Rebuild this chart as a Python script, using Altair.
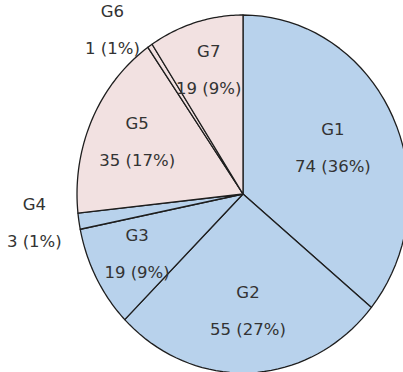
import altair as alt
import pandas as pd

groups = ["G1", "G2", "G3", "G4", "G5", "G6", "G7"]
values = [74, 55, 19, 3, 35, 1, 19]
colors = ["#B8D2EC", "#B8D2EC", "#B8D2EC", "#B8D2EC", "#F2E1E1", "#F2E1E1", "#F2E1E1"]

df = pd.DataFrame({"group": groups, "value": values})

# pie geometry (pixel layout of the view)
CX, CY, RX, RY = 243, 194, 166, 179
xscale = alt.Scale(domain=[-1, 1], range=[CX - RX, CX + RX])
yscale = alt.Scale(domain=[-1, 1], range=[CY + RY, CY - RY])

base = (
    alt.Chart(df)
    .transform_joinaggregate(total="sum(value)")
    .transform_window(cum="sum(value)", sort=[{"field": "group"}])
    .transform_calculate(
        a0="(datum.cum - datum.value) / datum.total * 2 * PI",
        a1="datum.cum / datum.total * 2 * PI",
    )
)

wedges = (
    base.transform_calculate(steps="sequence(0, 43)")
    .transform_flatten(["steps"])
    .transform_calculate(
        t="clamp((datum.steps - 1) / 40, 0, 1)",
        r="(datum.steps == 0 || datum.steps == 42) ? 0 : 1",
    )
    .transform_calculate(ang="datum.a0 + (datum.a1 - datum.a0) * datum.t")
    .transform_calculate(
        px="datum.r * sin(datum.ang)",
        py="datum.r * cos(datum.ang)",
    )
    .mark_line(stroke="#1e1e1e", strokeWidth=1.3, strokeJoin="round")
    .encode(
        x=alt.X("px:Q", scale=xscale, axis=None),
        y=alt.Y("py:Q", scale=yscale, axis=None),
        fill=alt.Fill("group:N", scale=alt.Scale(domain=groups, range=colors), legend=None),
        detail="group:N",
        order="steps:Q",
    )
)

# percentages by largest remainder so they sum to 100
labels = (
    base.transform_calculate(
        raw="datum.value / datum.total * 100",
    )
    .transform_calculate(fl="floor(datum.raw)", rem="datum.raw - floor(datum.raw)")
    .transform_joinaggregate(flsum="sum(fl)")
    .transform_window(rk="row_number()", sort=[{"field": "rem", "order": "descending"}])
    .transform_calculate(
        pct="datum.fl + (datum.rk <= 100 - datum.flsum ? 1 : 0)",
    )
    .transform_calculate(
        txt="datum.value + ' (' + datum.pct + '%)'",
        half="(datum.a1 - datum.a0) / 2",
        mid="(datum.a0 + datum.a1) / 2",
        inside="datum.value / datum.total >= 0.03",
    )
    .transform_calculate(
        rf="datum.inside ? (2 * sin(datum.half) / (3 * datum.half) + 0.065) : 1.1",
    )
    .transform_calculate(
        lx="datum.rf * sin(datum.mid) + (datum.inside ? 0 : (sin(datum.mid) < 0 ? -0.17 : 0.17))",
        ly="datum.rf * cos(datum.mid)",
    )
)

font = dict(font="DejaVu Sans", fontSize=16.5, color="#333333", baseline="middle", align="center")

names = labels.mark_text(dy=-18.5, **font).encode(
    x=alt.X("lx:Q", scale=xscale, axis=None),
    y=alt.Y("ly:Q", scale=yscale, axis=None),
    text="group:N",
)
vals = labels.mark_text(dy=18.5, **font).encode(
    x=alt.X("lx:Q", scale=xscale, axis=None),
    y=alt.Y("ly:Q", scale=yscale, axis=None),
    text="txt:N",
)

chart = (
    alt.layer(wedges, names, vals)
    .properties(width=403, height=372, padding=0, autosize=alt.AutoSizeParams(type="none"))
    .configure_view(stroke=None)
)

chart.save("out.html", embed_options={"renderer": "svg", "actions": False})
